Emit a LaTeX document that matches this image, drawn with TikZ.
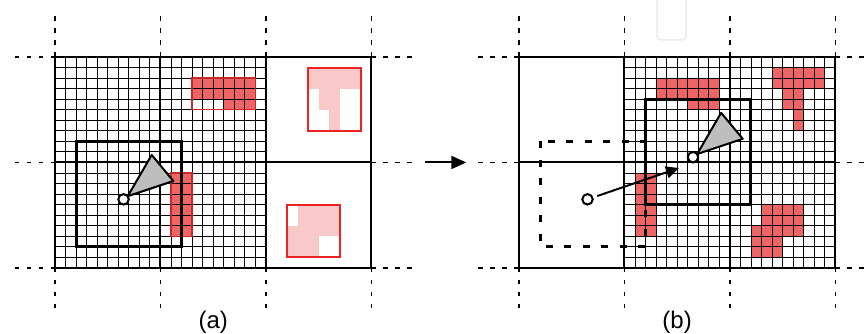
\documentclass[tikz,border=0pt]{standalone}
\usepackage{fontspec}
\setmainfont{Liberation Sans}
\usetikzlibrary{arrows.meta}
\definecolor{cellred}{RGB}{239,100,100}
\definecolor{celledge}{RGB}{200,40,40}
\definecolor{pinkfill}{RGB}{249,201,201}
\definecolor{pinkedge}{RGB}{237,35,35}
\definecolor{conegray}{RGB}{190,190,190}
\begin{document}
\begin{tikzpicture}[x=1pt,y=-1pt,
  fine/.style={line width=0.9pt},
  coarse/.style={line width=2pt},
  dots/.style={line width=1.6pt, dash pattern=on 4.5pt off 7.5pt},
  view/.style={line width=3pt},
  oldview/.style={line width=3pt, dash pattern=on 7pt off 11.5pt},
  robot/.style={circle, draw, fill=white, line width=2pt, minimum size=10.5pt, inner sep=0pt},
  cone/.style={draw, fill=conegray, line width=2pt, line join=round},
  redcell/.style={fill=cellred},
  pinkcell/.style={fill=pinkfill},
  redframe/.style={draw=celledge, line width=1.2pt},
  pinkframe/.style={draw=pinkedge, line width=2pt},
  move/.style={line width=2pt, -{Triangle[length=13pt,width=12pt]}},
  panelarrow/.style={line width=2pt, -{Triangle[length=15pt,width=13pt]}},
  caption/.style={font=\fontsize{24}{28}\selectfont, anchor=base, inner sep=0pt}
]
\useasboundingbox (0,0) rectangle (868,334);
\draw[line width=1.5pt, black!8, rounded corners=4pt] (657,-6) rectangle (686,40);

\begin{scope}[shift={(55,57)}, x=10.545pt, y=-10.545pt]
% ---------- red / pink cells ----------
% panel (a)
\fill[redcell] (13,2) rectangle (19,4);
\fill[redcell] (16,4) rectangle (19,5);
\fill[redcell] (11,11) rectangle (13,17);
\fill[pinkcell] (24,1) rectangle (29,3);
\fill[pinkcell] (25,3) rectangle (27,5);
\fill[pinkcell] (26,5) rectangle (27,7);
\fill[pinkcell] (23,14) rectangle (27,16);
\fill[pinkcell] (22,16) rectangle (27,17);
\fill[pinkcell] (22,17) rectangle (25,19);
% panel (b)
\fill[redcell] (57,2) rectangle (63,4);
\fill[redcell] (60,4) rectangle (63,5);
\fill[redcell] (55,11) rectangle (57,17);
\fill[redcell] (68,1) rectangle (73,3);
\fill[redcell] (69,3) rectangle (71,5);
\fill[redcell] (70,5) rectangle (71,7);
\fill[redcell] (67,14) rectangle (71,16);
\fill[redcell] (66,16) rectangle (71,17);
\fill[redcell] (66,17) rectangle (69,19);

% ---------- fine grids ----------
\foreach \i in {0,...,20} {
  \draw[fine] (\i,0) -- (\i,20);
  \draw[fine] (0,\i) -- (20,\i);
  \draw[fine] (54+\i,0) -- (54+\i,20);
  \draw[fine] (54,\i) -- (74,\i);
}

% ---------- coarse lines and dotted extensions ----------
\foreach \o/\r in {0/34,44/78} {
  \foreach \k in {0,10,20,30} {
    \draw[coarse] (\o+\k,0) -- (\o+\k,20);
    \draw[dots] (\o+\k,0) -- (\o+\k,-4);
    \draw[dots] (\o+\k,20) -- (\o+\k,24);
  }
  \foreach \j in {0,10,20} {
    \draw[coarse] (\o,\j) -- (\o+30,\j);
    \draw[dots] (\o,\j) -- (\o-4,\j);
    \draw[dots] (\o+30,\j) -- (\r,\j);
  }
}

% ---------- frames ----------
\draw[redframe] (13,2) rectangle (19,5);
\draw[redframe] (11,11) rectangle (13,17);
\draw[pinkframe] (24,1) rectangle (29,7);
\draw[pinkframe] (22,14) rectangle (27,19);

% ---------- viewports ----------
\draw[view] (2,8) rectangle (12,18);
\draw[oldview] (46,8) rectangle (56,18);
\draw[view] (56,4) rectangle (66,14);

% ---------- robots ----------
\coordinate (pa) at (6.5,13.5);
\coordinate (pb0) at (50.5,13.5);
\coordinate (pb1) at (60.5,9.5);
\draw[cone] ([shift={(0.4,-0.3)}]pa) -- ([shift={(2.67,-4.21)}]pa) -- ([shift={(4.72,-1.74)}]pa) -- cycle;
\draw[cone] ([shift={(0.4,-0.3)}]pb1) -- ([shift={(2.67,-4.21)}]pb1) -- ([shift={(4.72,-1.74)}]pb1) -- cycle;
\node[robot] (ra) at (pa) {};
\node[robot] (rb0) at (pb0) {};
\node[robot] (rb1) at (pb1) {};
\coordinate (mvE) at (59.17,10.53);
\draw[move, shorten <=4pt] (rb0) -- (mvE);

% ---------- arrow between panels ----------
\coordinate (nxS) at (35.1,10);
\coordinate (nxE) at (39,10);
\draw[panelarrow] (nxS) -- (nxE);

% ---------- captions ----------
\node[caption] (la) at (15,25.73) {(a)};
\node[caption] (lb) at (59,25.73) {(b)};
\end{scope}
\end{tikzpicture}
\end{document}
